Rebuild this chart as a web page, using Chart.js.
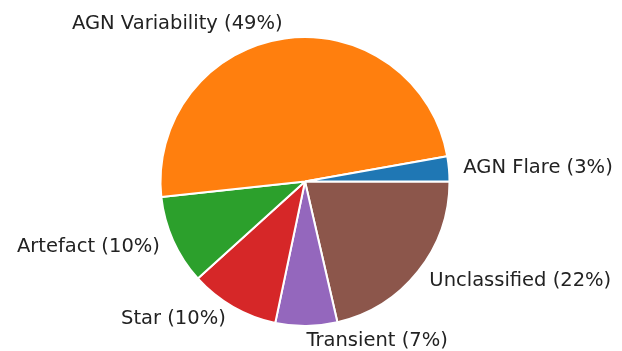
<!DOCTYPE html>
<html>
<head>
<meta charset="utf-8">
<script src="https://cdn.jsdelivr.net/npm/chart.js@4/dist/chart.umd.min.js"></script>
<style>
  html, body { margin: 0; padding: 0; background: #fff; }
  #wrap { width: 622px; height: 351px; }
</style>
</head>
<body>
<div id="wrap"><canvas id="pie"></canvas></div>
<script>
// Categories in matplotlib order (counter-clockwise from 3 o'clock)
const categories = ['AGN Flare', 'AGN Variability', 'Artefact', 'Star', 'Transient', 'Unclassified'];
const shares = [2.8, 48.9, 10.0, 10.0, 6.9, 21.4];
const pctLabels = ['3%', '49%', '10%', '10%', '7%', '22%'];
const colors = ['#1f77b4', '#ff7f0e', '#2ca02c', '#d62728', '#9467bd', '#8c564b'];

// Chart.js draws clockwise, so reverse everything
const rev = a => a.slice().reverse();
const labelText = categories.map((c, i) => c + ' (' + pctLabels[i] + ')');

const outerLabels = {
    id: 'outerLabels',
    afterDraw(chart) {
        const ctx = chart.ctx;
        const meta = chart.getDatasetMeta(0);
        const texts = chart.data.labels;
        ctx.save();
        ctx.font = '19.5px "DejaVu Sans"';
        ctx.fillStyle = '#222222';
        ctx.textBaseline = 'middle';
        meta.data.forEach((arc, i) => {
            const mid = (arc.startAngle + arc.endAngle) / 2;
            const r = arc.outerRadius * 1.1;
            const x = arc.x + r * Math.cos(mid);
            const y = arc.y + r * Math.sin(mid);
            ctx.textAlign = Math.cos(mid) > 0 ? 'left' : 'right';
            ctx.fillText(texts[i], x, y);
        });
        ctx.restore();
    }
};

new Chart(document.getElementById('pie'), {
    type: 'pie',
    data: {
        labels: rev(labelText),
        datasets: [{
            data: rev(shares),
            backgroundColor: rev(colors),
            borderColor: '#ffffff',
            borderWidth: 2
        }]
    },
    options: {
        responsive: true,
        maintainAspectRatio: false,
        animation: false,
        rotation: 90,
        layout: { padding: { left: 159, right: 171, top: 36, bottom: 24 } },
        plugins: {
            legend: { display: false },
            tooltip: { enabled: false }
        }
    },
    plugins: [outerLabels]
});
</script>
</body>
</html>
